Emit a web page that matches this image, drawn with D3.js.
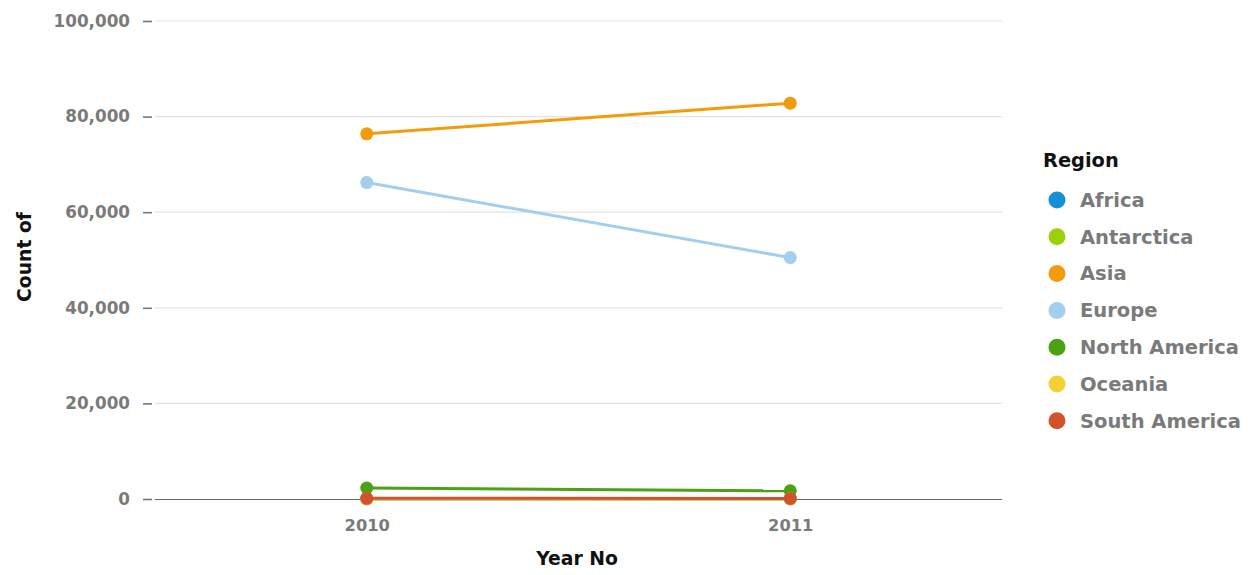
<!DOCTYPE html>
<html><head><meta charset="utf-8">
<script src="https://cdn.jsdelivr.net/npm/d3@7"></script>
<style>body{margin:0;background:#fff}svg{display:block}text{font-family:"DejaVu Sans",Verdana,sans-serif}</style>
</head><body><svg id="c" width="1249" height="575"></svg>
<script>
const years = ["2010","2011"];
const regions = ["Africa","Antarctica","Asia","Europe","North America","Oceania","South America"];
const colors = ["#168ed8","#9bd00c","#f29b0b","#a3cfee","#4ba212","#f5d033","#d2522c"];
const africa = [60, 50];
const antarctica = [10, 10];
const asia = [76400, 82800];
const europe = [66200, 50500];
const northAmerica = [2300, 1700];
const oceania = [120, 100];
const southAmerica = [150, 120];
const yTicks = [0,20000,40000,60000,80000,100000];
const seriesValues = [africa, antarctica, asia, europe, northAmerica, oceania, southAmerica];

const svg = d3.select("#c");
const x = d3.scalePoint().domain(years).range([155,1002]).padding(0.5);
const y = d3.scaleLinear().domain([0,100000]).range([499,21]);
const fmt = d3.format(",");
const gray = "#7a7a7a";

// grid
svg.append("g").selectAll("line").data(yTicks.filter(d=>d>0)).join("line")
  .attr("x1",155).attr("x2",1002).attr("y1",d=>y(d)).attr("y2",d=>y(d))
  .attr("stroke","#e3e3e3").attr("stroke-width",1.2);
// y axis
const ya = svg.append("g").attr("transform","translate(152,0)")
  .call(d3.axisLeft(y).tickValues(yTicks).tickFormat(fmt).tickSize(9).tickPadding(13));
ya.select(".domain").remove();
ya.selectAll(".tick line").attr("stroke","#777").attr("stroke-width",1.6);
ya.selectAll(".tick text").attr("fill",gray).attr("font-size",16.8).attr("font-weight","bold")
  .style("font-family","'DejaVu Sans',sans-serif");
// baseline
svg.append("line").attr("x1",155).attr("x2",1002).attr("y1",y(0)+0.5).attr("y2",y(0)+0.5)
  .attr("stroke","#666").attr("stroke-width",1.2);
// x axis labels
const xa = svg.append("g").attr("transform",`translate(0,${y(0)})`)
  .call(d3.axisBottom(x).tickSize(0).tickPadding(20));
xa.select(".domain").remove();
xa.selectAll(".tick text").attr("fill",gray).attr("font-size",16.3).attr("font-weight","bold")
  .style("font-family","'DejaVu Sans',sans-serif");

// lines
const line = d3.line().x((d,i)=>x(years[i])).y(d=>y(d));
seriesValues.forEach((vals,k)=>{
  const g = svg.append("g");
  g.append("path").datum(vals).attr("d",line).attr("fill","none")
    .attr("stroke",colors[k]).attr("stroke-width",3);
  g.selectAll("circle").data(vals).join("circle")
    .attr("cx",(d,i)=>x(years[i])).attr("cy",d=>y(d)).attr("r",6.5)
    .attr("fill",colors[k]);
});

// axis titles
svg.append("text").attr("x",577).attr("y",565).attr("text-anchor","middle")
  .attr("font-size",18.8).attr("font-weight","bold").attr("fill","#111").text("Year No");
svg.append("text").attr("transform","translate(31,257) rotate(-90)").attr("text-anchor","middle")
  .attr("font-size",18.8).attr("font-weight","bold").attr("fill","#111").text("Count of");

// legend
svg.append("text").attr("x",1043).attr("y",167).attr("font-size",19.4).attr("font-weight","bold")
  .attr("fill","#111").text("Region");
const lg = svg.append("g").selectAll("g").data(regions).join("g")
  .attr("transform",(d,i)=>`translate(0,${200+i*36.8})`);
lg.append("circle").attr("cx",1057).attr("cy",0).attr("r",8.5).attr("fill",(d,i)=>colors[i]);
lg.append("text").attr("x",1080).attr("y",6.8).attr("font-size",19.5).attr("font-weight","bold")
  .attr("fill",gray).text(d=>d);
</script></body></html>
